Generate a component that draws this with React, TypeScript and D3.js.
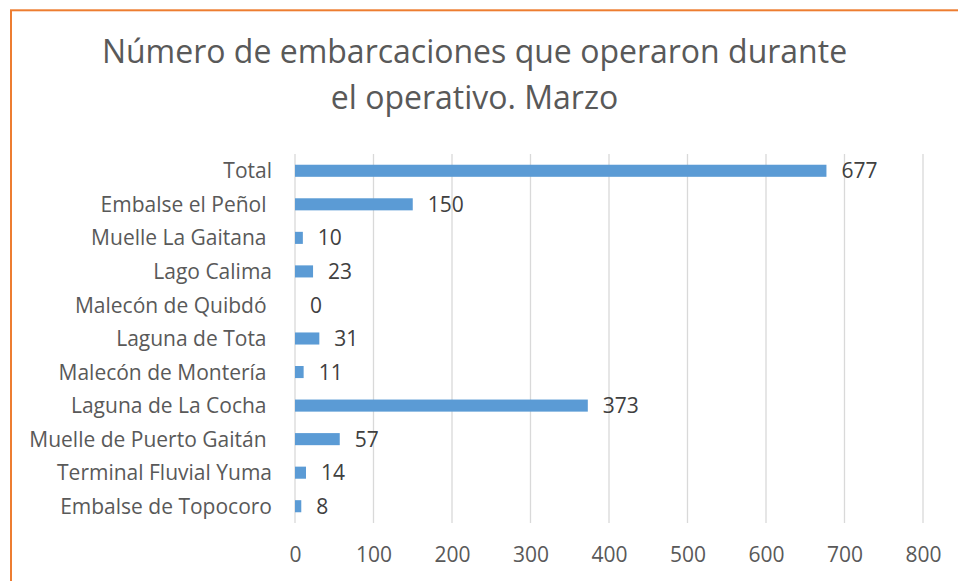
import React, { useEffect, useRef } from "react";
import * as d3 from "d3";

// some category names carry a trailing space in the source sheet
const categories = [
  "Total",
  "Embalse el Peñol ",
  "Muelle La Gaitana ",
  "Lago Calima",
  "Malecón de Quibdó ",
  "Laguna de Tota ",
  "Malecón de Montería ",
  "Laguna de La Cocha ",
  "Muelle de Puerto Gaitán ",
  "Terminal Fluvial Yuma",
  "Embalse de Topocoro",
];
const values = [677, 150, 10, 23, 0, 31, 11, 373, 57, 14, 8];
const xTicks = [0, 100, 200, 300, 400, 500, 600, 700, 800];
const titleLines = ["Número de embarcaciones que operaron durante", "el operativo. Marzo"];

const FONT = "'Open Sans', 'DejaVu Sans', sans-serif";

const App: React.FC = () => {
  const ref = useRef<SVGSVGElement>(null);

  useEffect(() => {
    if (!ref.current) return;
    const svg = d3.select(ref.current);
    svg.selectAll("*").remove();

    const W = 958;
    const H = 581;
    const plot = { left: 295, right: 923, top: 154, bottom: 523 };

    svg.append("rect").attr("width", W).attr("height", H).attr("fill", "#ffffff");

    // orange frame (only the top/left edges are in view)
    svg
      .append("rect")
      .attr("x", 11)
      .attr("y", 10.3)
      .attr("width", 1200)
      .attr("height", 1200)
      .attr("fill", "none")
      .attr("stroke", "#ED7D31")
      .attr("stroke-width", 2);

    // title
    const title = svg
      .append("text")
      .attr("text-anchor", "middle")
      .attr("fill", "#595959")
      .style("font-family", FONT)
      .style("font-size", "32px");
    title.append("tspan").attr("x", 474.5).attr("y", 62.7).text(titleLines[0]);
    title.append("tspan").attr("x", 474.5).attr("y", 109).text(titleLines[1]);

    const x = d3
      .scaleLinear()
      .domain([xTicks[0], xTicks[xTicks.length - 1]])
      .range([plot.left, plot.right]);

    const y = d3
      .scaleBand()
      .domain(categories)
      .range([plot.top, plot.bottom])
      .paddingInner(0.64)
      .paddingOuter(0.32);

    // vertical gridlines
    svg
      .append("g")
      .selectAll("line")
      .data(xTicks)
      .enter()
      .append("line")
      .attr("x1", (d) => x(d))
      .attr("x2", (d) => x(d))
      .attr("y1", plot.top)
      .attr("y2", plot.bottom)
      .attr("stroke", "#D9D9D9")
      .attr("stroke-width", 1.3);

    // x tick labels
    svg
      .append("g")
      .attr("transform", `translate(0,${plot.bottom})`)
      .call(
        d3
          .axisBottom(x)
          .tickValues(xTicks)
          .tickSize(0)
          .tickPadding(24)
          .tickFormat((d) => d3.format("d")(d as number))
      )
      .call((g) => g.select(".domain").remove())
      .selectAll("text")
      .attr("fill", "#595959")
      .style("font-family", FONT)
      .style("font-size", "21px");

    // category labels
    svg
      .append("g")
      .selectAll("text")
      .data(categories)
      .enter()
      .append("text")
      .attr("x", 272)
      .attr("y", (d) => (y(d) ?? 0) + y.bandwidth() / 2)
      .attr("dy", "0.36em")
      .attr("text-anchor", "end")
      .attr("fill", "#595959")
      .style("white-space", "pre")
      .style("font-family", FONT)
      .style("font-size", "21px")
      .text((d) => d);

    // bars
    svg
      .append("g")
      .selectAll("rect")
      .data(values)
      .enter()
      .append("rect")
      .attr("x", x(0))
      .attr("y", (d, i) => y(categories[i]) ?? 0)
      .attr("width", (d) => x(d) - x(0))
      .attr("height", y.bandwidth())
      .attr("fill", "#5B9BD5");

    // value labels
    svg
      .append("g")
      .selectAll("text")
      .data(values)
      .enter()
      .append("text")
      .attr("x", (d) => x(d) + 15)
      .attr("y", (d, i) => (y(categories[i]) ?? 0) + y.bandwidth() / 2)
      .attr("dy", "0.36em")
      .attr("fill", "#404040")
      .style("font-family", FONT)
      .style("font-size", "21px")
      .text((d) => d);
  }, []);

  return (
    <div style={{ position: "absolute", left: 0, top: 0 }}>
      <svg ref={ref} width={958} height={581} style={{ display: "block" }} />
    </div>
  );
};

export default App;
